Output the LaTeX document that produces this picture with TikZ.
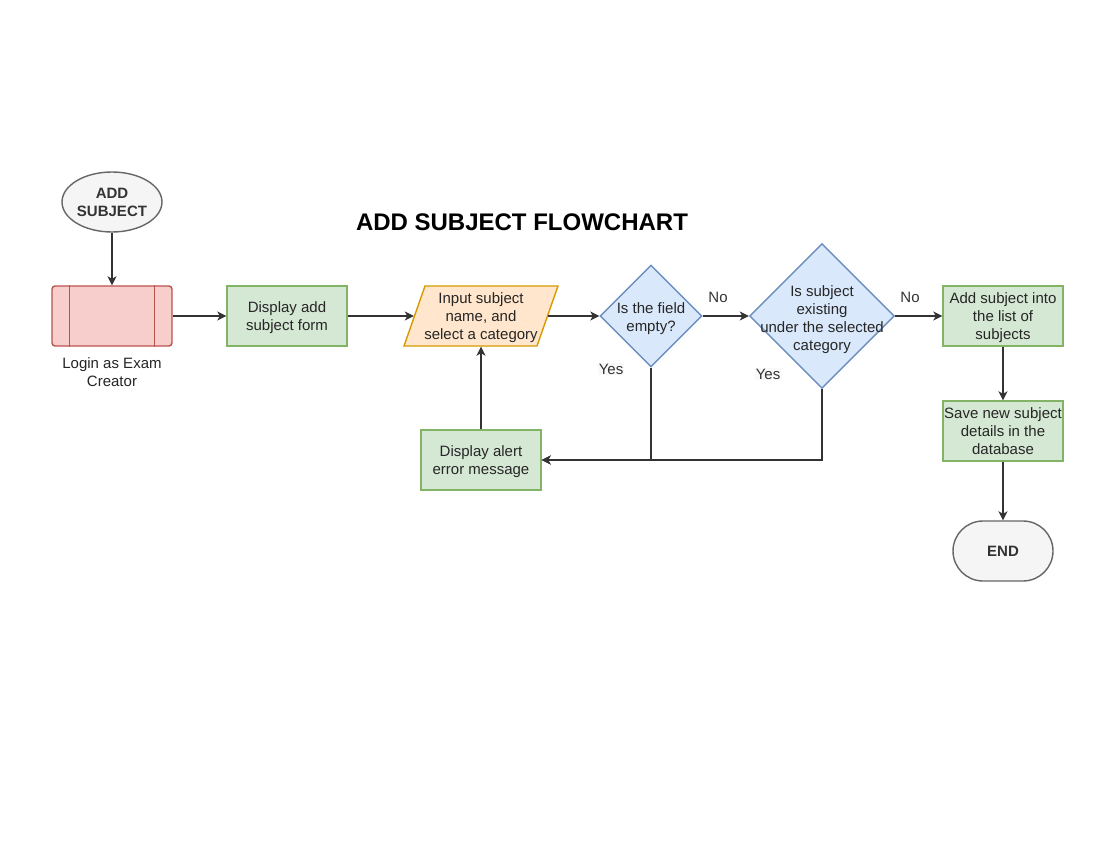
\documentclass[tikz,border=0pt]{standalone}
\usepackage{fontspec}
\setmainfont{Liberation Sans}
\usetikzlibrary{shapes.geometric,arrows.meta,calc}
\definecolor{grayF}{HTML}{F5F5F5}
\definecolor{grayD}{HTML}{666666}
\definecolor{txtG}{HTML}{333333}
\definecolor{redF}{HTML}{F8CECC}
\definecolor{redD}{HTML}{B85450}
\definecolor{grnF}{HTML}{D5E8D4}
\definecolor{grnD}{HTML}{82B366}
\definecolor{orgF}{HTML}{FFE6CC}
\definecolor{orgD}{HTML}{D79B00}
\definecolor{bluF}{HTML}{DAE8FC}
\definecolor{bluD}{HTML}{6C8EBF}
\definecolor{edgeC}{HTML}{333333}
\begin{document}
\begin{tikzpicture}[x=1pt,y=-1pt,
  base/.style={font=\fontsize{15}{18}\selectfont, align=center, line width=1.4pt, inner sep=0pt, text=black!85, text depth=0pt},
  greenbox/.style={base, draw=grnD, fill=grnF, minimum width=120pt, minimum height=60pt},
  redbox/.style={base, draw=redD, fill=redF, rounded corners=3pt, minimum width=120pt, minimum height=60pt},
  termsty/.style={base, draw=grayD, fill=grayF, text=txtG, font=\fontsize{15}{18}\selectfont\bfseries},
  bluedia/.style={base, diamond, aspect=1, draw=bluD, fill=bluF},
  conn/.style={line width=1.2pt, draw=edgeC, -{Stealth[length=9pt,width=9pt,inset=2.5pt]}},
  lbl/.style={font=\fontsize{15}{18}\selectfont, text=txtG, inner sep=1pt}]

\useasboundingbox[fill=white] (0,0) rectangle (1100,850);

\node[font=\fontsize{24}{28}\selectfont\bfseries] (title) at (522,222) {ADD SUBJECT FLOWCHART};

\node[termsty, ellipse, minimum width=100pt, minimum height=60pt] (start) at (112,202) {ADD\\SUBJECT};

\node[redbox] (login) at (112,316) {};
\draw[redD, line width=1.4pt] ($(login.north west)+(18,0)$) -- ($(login.south west)+(18,0)$);
\draw[redD, line width=1.4pt] ($(login.north east)+(-18,0)$) -- ($(login.south east)+(-18,0)$);
\node[base] (loginlbl) at (112,372) {Login as Exam\\Creator};

\node[greenbox] (disp) at (287,316) {Display add\\subject form};

\filldraw[draw=orgD, fill=orgF, line width=1.4pt] (425,286) -- (558,286) -- (537,346) -- (404,346) -- cycle;
\node[base, minimum width=133pt, minimum height=60pt] (inp) at (481,316) {Input subject\\name, and\\select a category};

\node[bluedia, minimum width=102pt, minimum height=102pt] (d1) at (651,316) {};
\node[base] (d1t) at (651,317) {Is the field\\empty?};

\node[bluedia, minimum width=145pt, minimum height=145pt] (d2) at (822,316) {};
\node[base] (d2t) at (822,318) {Is subject\\existing\\under the selected\\category};

\node[greenbox] (addl) at (1003,316) {Add subject into\\the list of\\subjects};
\node[greenbox] (save) at (1003,431) {Save new subject\\details in the\\database};
\node[termsty, rounded corners=30pt, minimum width=100pt, minimum height=60pt] (end) at (1003,551) {END};

\node[greenbox] (alert) at (481,460) {Display alert\\error message};

\draw[conn] (start) -- (login);
\draw[conn] (login) -- (disp);
\draw[conn] (disp) -- (inp);
\draw[conn] (inp) -- (d1);
\draw[conn] (d1) -- (d2);
\draw[conn] (d2) -- (addl);
\draw[conn] (addl) -- (save);
\draw[conn] (save) -- (end);
\draw[conn] (d1.south) |- (alert.east);
\draw[conn] (d2.south) |- (alert.east);
\draw[conn] (alert) -- (inp);

\node[lbl] (no1) at (718,297) {No};
\node[lbl] (no2) at (910,297) {No};
\node[lbl, fill=gray!5] (yes1) at (611,369) {Yes};
\node[lbl, fill=gray!5] (yes2) at (768,374) {Yes};
\end{tikzpicture}
\end{document}
